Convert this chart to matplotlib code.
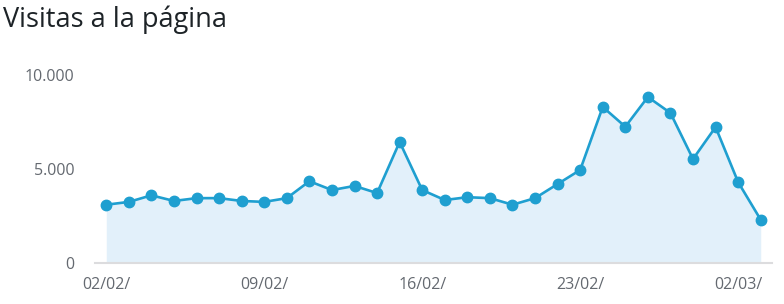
import matplotlib.pyplot as plt
import numpy as np

plt.rcParams['font.family'] = ['Open Sans', 'DejaVu Sans']

# Data: daily page visits, 02/02 to 03/03
days = ['02/02/', '03/02/', '04/02/', '05/02/', '06/02/', '07/02/', '08/02/',
        '09/02/', '10/02/', '11/02/', '12/02/', '13/02/', '14/02/', '15/02/',
        '16/02/', '17/02/', '18/02/', '19/02/', '20/02/', '21/02/', '22/02/',
        '23/02/', '24/02/', '25/02/', '26/02/', '27/02/', '28/02/', '01/03/',
        '02/03/', '03/03/']
visits = [3100, 3250, 3600, 3300, 3450, 3450, 3300,
          3250, 3450, 4350, 3880, 4100, 3720, 6440,
          3880, 3350, 3500, 3450, 3100, 3450, 4200,
          4950, 8300, 7250, 8830, 7980, 5530, 7230,
          4300, 2300]
yticks = [0, 5000, 10000]
ytick_labels = ['0', '5.000', '10.000']

x = np.arange(len(days))

fig = plt.figure(figsize=(7.84, 3.04), dpi=100)
ax = fig.add_axes([95 / 784, (304 - 263) / 304, (772 - 95) / 784, (263 - 75) / 304])

ax.fill_between(x, visits, 0, color='#e2f0fa', linewidth=0, zorder=1)
ax.plot(x, visits, color='#1f9fd0', linewidth=1.9, marker='o', markersize=7.5,
        clip_on=False, zorder=3)

ax.set_xlim(-0.5, len(days) - 0.5)
ax.set_ylim(0, 10000)

ax.set_yticks(yticks)
ax.set_yticklabels(ytick_labels)
ax.set_xticks(x[::7])
ax.set_xticklabels(days[::7])
ax.tick_params(axis='y', length=0, pad=15, labelsize=11.5, labelcolor='#646970')
ax.tick_params(axis='x', length=0, pad=10, labelsize=11.5, labelcolor='#646970')

for s in ['top', 'right', 'left']:
    ax.spines[s].set_visible(False)
ax.spines['bottom'].set_color('#dcdcde')
ax.spines['bottom'].set_linewidth(1.5)

fig.text(3 / 784, 1 - 20 / 304, 'Visitas a la página', fontsize=19.5,
         color='#1d2327', va='center', ha='left')

fig.savefig('out.png', dpi=100)
